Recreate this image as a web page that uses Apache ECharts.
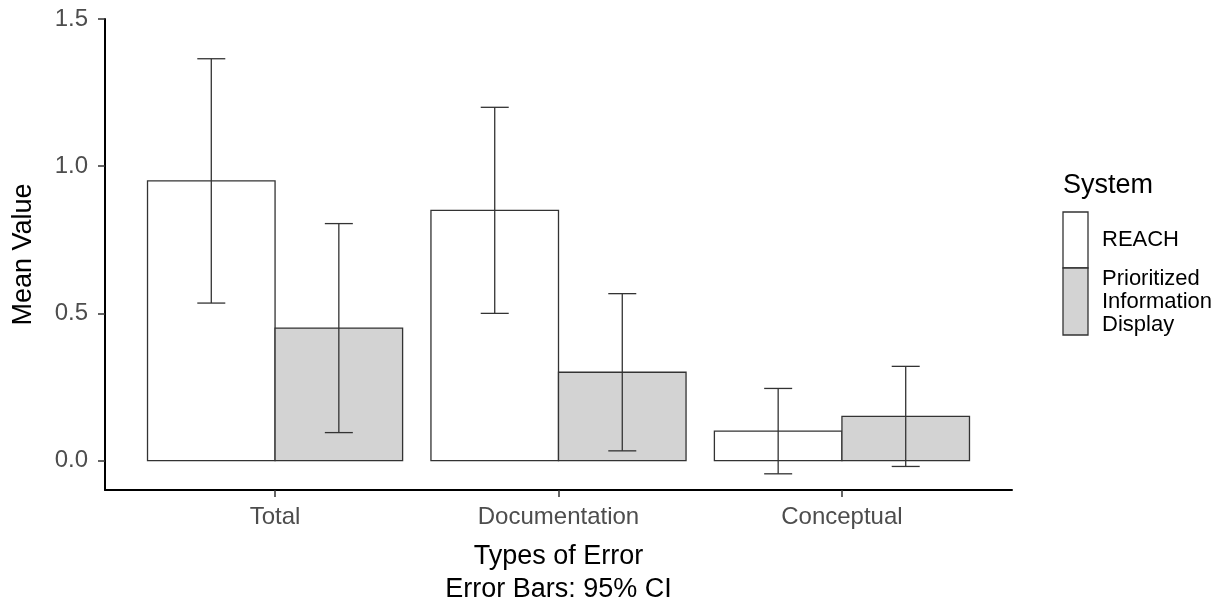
<!DOCTYPE html>
<html>
<head>
<meta charset="utf-8">
<script src="https://cdn.jsdelivr.net/npm/echarts@6/dist/echarts.min.js"></script>
<style>
  html, body { margin: 0; padding: 0; background: #fff; }
  #chart { width: 1222px; height: 606px; }
</style>
</head>
<body>
<div id="chart"></div>
<script>
var categories = ['Total', 'Documentation', 'Conceptual'];
var systems = ['REACH', 'Prioritized\nInformation\nDisplay'];
var reachMean = [0.95, 0.85, 0.10];
var reachLower = [0.535, 0.50, -0.045];
var reachUpper = [1.365, 1.20, 0.245];
var pidMean = [0.45, 0.30, 0.15];
var pidLower = [0.095, 0.033, -0.02];
var pidUpper = [0.805, 0.567, 0.32];
var yTicks = [0, 0.5, 1.0, 1.5];

var font = '"Liberation Sans", Arial, sans-serif';
var fills = ['#ffffff', '#d3d3d3'];
var dodge = 0.45;

function rows(mean, lower, upper) {
  return mean.map(function(v, i) { return [i + 1, v, lower[i], upper[i]]; });
}

function makeRender(side, fill) {
  return function(params, api) {
    var x = api.value(0), v = api.value(1), lo = api.value(2), hi = api.value(3);
    var x0 = side === 0 ? x - dodge : x;
    var x1 = side === 0 ? x : x + dodge;
    var p0 = api.coord([x0, 0]);
    var p1 = api.coord([x1, v]);
    var cx = api.coord([(x0 + x1) / 2, 0])[0];
    var pl = api.coord([x, lo])[1];
    var ph = api.coord([x, hi])[1];
    var cap = 14;
    var eb = { stroke: '#333333', lineWidth: 1.3 };
    return {
      type: 'group',
      children: [
        { type: 'rect', shape: { x: p0[0], y: p1[1], width: p1[0] - p0[0], height: p0[1] - p1[1] },
          style: { fill: fill, stroke: '#333333', lineWidth: 1.3 } },
        { type: 'line', shape: { x1: cx, y1: pl, x2: cx, y2: ph }, style: eb, z2: 5 },
        { type: 'line', shape: { x1: cx - cap, y1: ph, x2: cx + cap, y2: ph }, style: eb, z2: 5 },
        { type: 'line', shape: { x1: cx - cap, y1: pl, x2: cx + cap, y2: pl }, style: eb, z2: 5 }
      ]
    };
  };
}

var chart = echarts.init(document.getElementById('chart'), null, { renderer: 'canvas' });
chart.setOption({
  animation: false,
  backgroundColor: '#ffffff',
  textStyle: { fontFamily: font },
  grid: { left: 105, right: 210, top: 19, bottom: 116, containLabel: false, outerBoundsMode: 'none' },
  xAxis: {
    type: 'value',
    min: 0.4,
    max: 3.6,
    splitLine: { show: false },
    axisLine: { show: true, onZero: false, lineStyle: { color: '#000', width: 2 } },
    axisTick: { show: true, customValues: [1, 2, 3], length: 7, lineStyle: { color: '#333', width: 1.5 } },
    axisLabel: {
      customValues: [1, 2, 3],
      margin: 15,
      fontSize: 24,
      color: '#4d4d4d',
      fontFamily: font,
      formatter: function(v) { return categories[Math.round(v) - 1]; }
    },
    name: 'Types of Error\nError Bars: 95% CI',
    nameLocation: 'middle',
    nameGap: 50,
    nameTextStyle: { fontSize: 27, color: '#000', lineHeight: 33, fontFamily: font }
  },
  yAxis: {
    type: 'value',
    min: -0.1,
    max: 1.5,
    splitLine: { show: false },
    axisLine: { show: true, lineStyle: { color: '#000', width: 2 } },
    axisTick: { show: true, customValues: yTicks, length: 7, lineStyle: { color: '#333', width: 1.5 } },
    axisLabel: {
      customValues: yTicks,
      margin: 17,
      fontSize: 24,
      color: '#4d4d4d',
      fontFamily: font,
      formatter: function(v) { return v.toFixed(1); }
    },
    name: 'Mean Value',
    nameLocation: 'middle',
    nameGap: 68,
    nameRotate: 90,
    nameTextStyle: { fontSize: 27, color: '#000', fontFamily: font }
  },
  series: [
    { name: 'REACH', type: 'custom', renderItem: makeRender(0, fills[0]), data: rows(reachMean, reachLower, reachUpper) },
    { name: 'Prioritized Information Display', type: 'custom', renderItem: makeRender(1, fills[1]), data: rows(pidMean, pidLower, pidUpper) }
  ],
  graphic: [
    { type: 'text', left: 1063, top: 172, style: { text: 'System', fontSize: 27, fill: '#000', fontFamily: font } },
    { type: 'rect', shape: { x: 1063, y: 212, width: 25, height: 56 }, style: { fill: fills[0], stroke: '#333', lineWidth: 1.3 } },
    { type: 'rect', shape: { x: 1063, y: 268, width: 25, height: 67 }, style: { fill: fills[1], stroke: '#333', lineWidth: 1.3 } },
    { type: 'text', x: 1102, y: 240, style: { text: systems[0], fontSize: 22, fill: '#000', fontFamily: font, verticalAlign: 'middle' } },
    { type: 'text', x: 1102, y: 302, style: { text: systems[1], fontSize: 22, lineHeight: 23, fill: '#000', fontFamily: font, verticalAlign: 'middle' } }
  ]
});
</script>
</body>
</html>
